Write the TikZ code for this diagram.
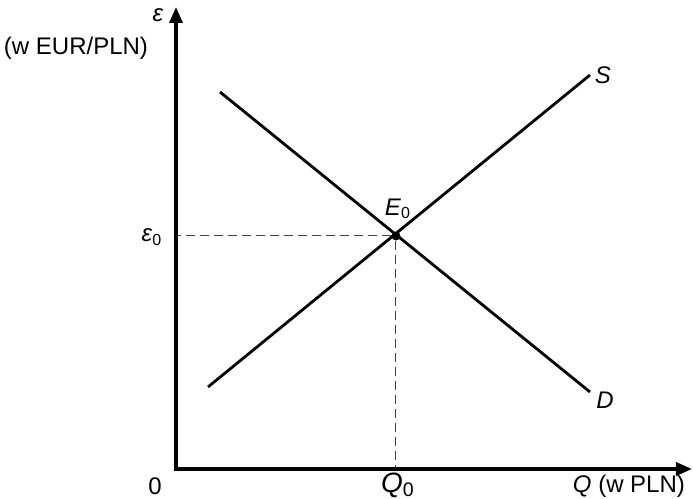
\documentclass[tikz,border=0pt]{standalone}
\usepackage{fontspec}
\setmainfont{Liberation Sans}
\usetikzlibrary{arrows.meta}
\newcommand{\econvar}[2]{\textit{#1}\textsubscript{#2}}

\begin{document}
\begin{tikzpicture}[
  x=0.5pt, y=0.5pt,
  >={Triangle[length=8pt, width=6.5pt]},
  axis/.style={line width=1.7pt},
  curve/.style={line width=1.4pt},
  guide/.style={line width=0.5pt, black!75, dash pattern=on 4.5pt off 2.5pt},
  dot/.style={circle, fill=black, minimum size=4.5pt, inner sep=0pt},
  lbl/.style={font=\fontsize{12}{14}\selectfont},
]
  \useasboundingbox (0,0) rectangle (693,499);

  \coordinate (origin) at (176,30);
  \coordinate (ytop)   at (176,492);
  \coordinate (xend)   at (692,30);

  \coordinate (s0) at (208,112);
  \coordinate (s1) at (590,424);
  \coordinate (d0) at (220,407);
  \coordinate (d1) at (590,107);

  \node[dot] (eq) at (396,263) {};

  \draw[guide] (eq) -- (eq -| origin);
  \draw[guide] (eq) -- (eq |- origin);

  \draw[axis, <->] (ytop) -- (origin) -- (xend);

  \draw[curve] (s0) -- (s1);
  \draw[curve] (d0) -- (d1);

  \node[lbl] (slbl)   at (603,424) {\textit{S}};
  \node[lbl] (dlbl)   at (605,99)  {\textit{D}};
  \node[lbl] (eqlbl)  at (398,290) {\econvar{E}{0}};
  \node[lbl] (epslbl) at (152,262) {\econvar{ε}{0}};
  \node[lbl, font=\fontsize{14}{16}\selectfont] (qlbl) at (398,14) {\econvar{Q}{0}};
  \node[lbl] (zero)   at (155,13)  {0};
  \node[lbl, anchor=east] (xname) at (692,13) {\textit{Q} (w PLN)};
  \node[lbl] (yname)  at (158,484) {\textit{ε}};
  \node[lbl] (yunit)  at (76,451)  {(w EUR/PLN)};
\end{tikzpicture}
\end{document}
